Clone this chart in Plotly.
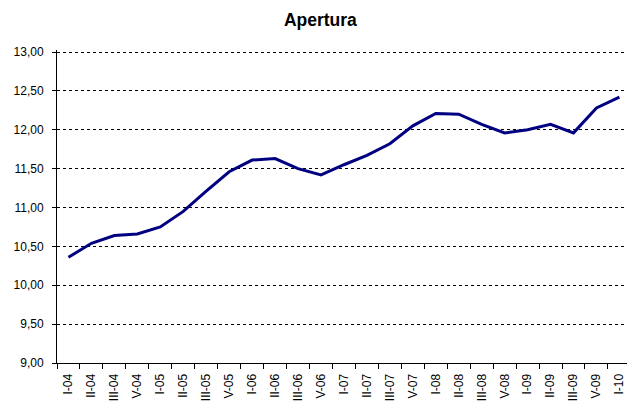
import plotly.graph_objects as go

categories = ["I-04", "II-04", "III-04", "V-04", "I-05", "II-05", "III-05", "V-05",
              "I-06", "II-06", "III-06", "V-06", "I-07", "II-07", "III-07", "V-07",
              "I-08", "II-08", "III-08", "V-08", "I-09", "II-09", "III-09", "V-09", "I-10"]
values = [10.36, 10.54, 10.64, 10.66, 10.75, 10.95, 11.21, 11.46,
          11.61, 11.63, 11.50, 11.42, 11.55, 11.67, 11.82, 12.05,
          12.21, 12.20, 12.07, 11.96, 12.00, 12.07, 11.96, 12.28, 12.42]
y_ticks = [9.0, 9.5, 10.0, 10.5, 11.0, 11.5, 12.0, 12.5, 13.0]

font_family = "Arial, Liberation Sans, sans-serif"

fig = go.Figure(go.Scatter(
    x=categories, y=values, mode="lines",
    line=dict(color="#000080", width=3),
    hoverinfo="x+y",
))

fig.update_layout(
    width=627, height=402,
    margin=dict(l=57, r=0, t=50, b=39),
    paper_bgcolor="white", plot_bgcolor="white",
    separators=",.",
    showlegend=False,
    font=dict(family=font_family, size=12, color="black"),
    title=dict(text="<b>Apertura</b>", xref="container", x=0.511, xanchor="center",
               yref="container", y=0.951, yanchor="middle",
               font=dict(family=font_family, size=17.5, color="black")),
)

fig.update_xaxes(
    type="category",
    range=[-0.5, 24.33],
    tickson="boundaries",
    ticks="outside", ticklen=5, tickcolor="black", tickwidth=1,
    tickangle=-90,
    ticklabelstandoff=5,
    showline=True, linecolor="black", linewidth=1,
    showgrid=False, automargin=False,
    tickfont=dict(family=font_family, size=12, color="black"),
)
fig.update_yaxes(
    range=[9, 13.026],
    tickvals=y_ticks,
    tickformat=".2f",
    ticks="outside", ticklen=4, tickcolor="black", tickwidth=1,
    ticklabelstandoff=6,
    showline=True, linecolor="black", linewidth=1,
    showgrid=True, gridcolor="black", gridwidth=1, griddash="dot",
    zeroline=False, automargin=False,
    tickfont=dict(family=font_family, size=12, color="black"),
)

fig.write_html("out.html", config={"displayModeBar": False},
               post_script="document.body.style.margin='0';")
